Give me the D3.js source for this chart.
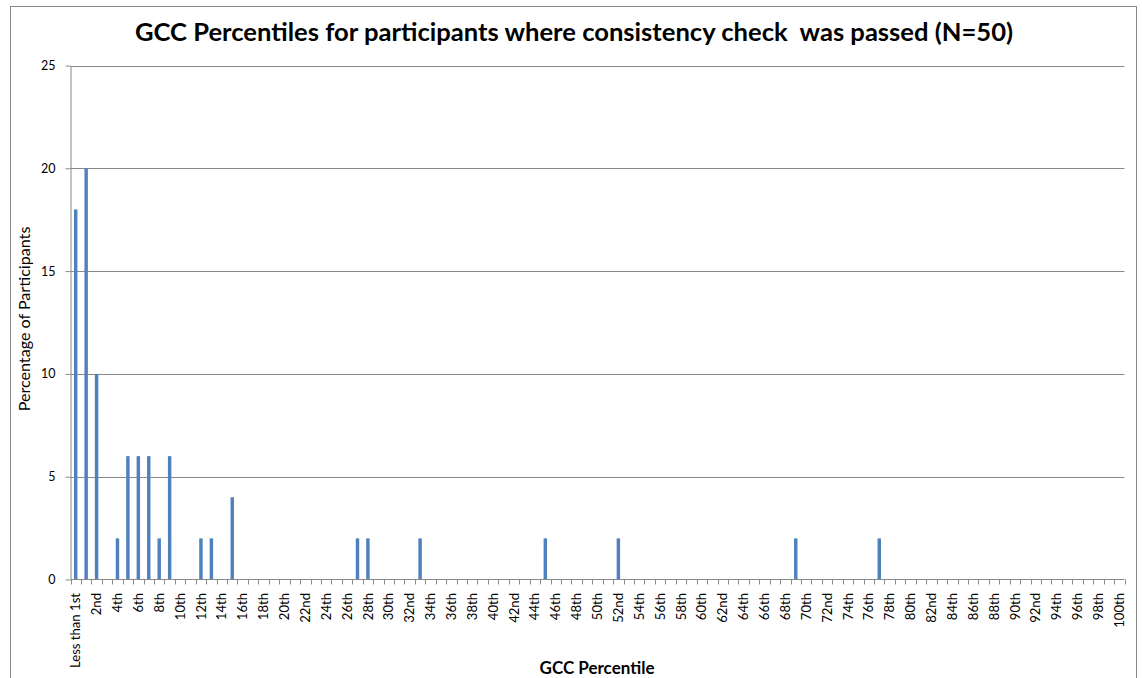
<!DOCTYPE html>
<html>
<head>
<meta charset="utf-8">
<script src="https://cdn.jsdelivr.net/npm/d3@7"></script>
<style>
  html, body { margin: 0; padding: 0; background: #fff; }
  svg { display: block; font-family: Lato, "Open Sans", "Liberation Sans", sans-serif; }
</style>
</head>
<body>
<svg id="chart" width="1142" height="678"></svg>
<script>
// ---- chart data ----
const chartTitle = "GCC Percentiles for participants where consistency check  was passed (N=50)";
const xTitle = "GCC Percentile";
const yTitle = "Percentage of Participants";

// percentile categories: "Less than 1st", then 1st ... 100th
function ordinal(n) {
  const s = ["th", "st", "nd", "rd"], v = n % 100;
  return n + (s[(v - 20) % 10] || s[v] || s[0]);
}
const categories = ["Less than 1st"].concat(d3.range(1, 101).map(ordinal));

// categories with participants (all other categories are 0)
const barCategories = ["Less than 1st", "1st", "2nd", "4th", "5th", "6th", "7th", "8th", "9th",
  "12th", "13th", "15th", "27th", "28th", "33rd", "45th", "52nd", "69th", "77th"];
const barValues = [18, 20, 10, 2, 6, 6, 6, 2, 6, 2, 2, 4, 2, 2, 2, 2, 2, 2, 2];

const yTicks = [0, 5, 10, 15, 20, 25];

// ---- layout ----
const svg = d3.select("#chart");
const plot = { left: 70.5, right: 1124.5, top: 65.5, bottom: 579.5 };
const gridColor = "#8a8a8a";
const barColor = "#4f81bd";

const valueByCategory = new Map(barCategories.map((c, i) => [c, barValues[i]]));
const series = categories.map(c => ({ category: c, value: valueByCategory.get(c) || 0 }));

const x = d3.scaleBand().domain(categories).range([plot.left, plot.right]).paddingInner(0).paddingOuter(0);
const y = d3.scaleLinear().domain([0, 25]).range([plot.bottom, plot.top]);

// shrink a text element's font so it spans a given width
function fitWidth(sel, target) {
  const len = sel.node().getComputedTextLength();
  const fs = parseFloat(sel.attr("font-size"));
  sel.attr("font-size", (fs * target / len).toFixed(2));
}

// outer chart frame
svg.append("rect")
  .attr("x", 10.5).attr("y", 6.5)
  .attr("width", 1126).attr("height", 700)
  .attr("fill", "#fff").attr("stroke", gridColor).attr("stroke-width", 1);

// horizontal gridlines
svg.append("g").selectAll("line")
  .data(yTicks.filter(t => t > 0))
  .join("line")
  .attr("x1", plot.left).attr("x2", plot.right)
  .attr("y1", d => Math.round(y(d)) + 0.5).attr("y2", d => Math.round(y(d)) + 0.5)
  .attr("stroke", gridColor).attr("stroke-width", 1);

// bars
const bw = x.bandwidth() * 0.33;
svg.append("g").selectAll("rect")
  .data(series.filter(d => d.value > 0))
  .join("rect")
  .attr("x", d => x(d.category) + x.bandwidth() / 2 - bw / 2)
  .attr("width", bw)
  .attr("y", d => y(d.value))
  .attr("height", d => y(0) - y(d.value))
  .attr("fill", barColor);

// y axis
const yAxis = svg.append("g")
  .attr("transform", `translate(${plot.left},0)`)
  .call(d3.axisLeft(y).tickValues(yTicks).tickSize(5).tickPadding(10).tickSizeOuter(0));
yAxis.select(".domain").attr("stroke", gridColor);
yAxis.selectAll(".tick line").attr("stroke", gridColor);
yAxis.selectAll(".tick text")
  .attr("font-size", 12.5).attr("fill", "#000")
  .style("font-family", "Lato, 'Open Sans', sans-serif");

// x axis line and boundary ticks
const xg = svg.append("g");
xg.append("line")
  .attr("x1", plot.left).attr("x2", plot.right)
  .attr("y1", plot.bottom).attr("y2", plot.bottom)
  .attr("stroke", gridColor);
const boundaries = categories.map(c => x(c)).concat([plot.right]);
xg.selectAll("line.tick")
  .data(boundaries)
  .join("line")
  .attr("class", "tick")
  .attr("x1", d => Math.round(d) + 0.5).attr("x2", d => Math.round(d) + 0.5)
  .attr("y1", plot.bottom).attr("y2", plot.bottom + 5)
  .attr("stroke", gridColor);

// rotated category labels, every other category
const labelY = 593;
const labelData = categories.filter((c, i) => i % 2 === 0);
const labels = xg.selectAll("text")
  .data(labelData)
  .join("text")
  .attr("transform", d => `translate(${x(d) + x.bandwidth() / 2},${labelY}) rotate(-90)`)
  .attr("text-anchor", "end")
  .attr("dy", "0.35em")
  .attr("font-size", 12)
  .attr("fill", "#000")
  .text(d => d);
// size labels so the longest one spans its measured length
{
  const first = labels.filter(d => d === "Less than 1st");
  fitWidth(first, 75);
  labels.attr("font-size", first.attr("font-size"));
}

// chart title
const title = svg.append("text")
  .attr("x", 574).attr("y", 41)
  .attr("text-anchor", "middle")
  .attr("font-weight", "bold")
  .attr("font-size", 22)
  .attr("fill", "#000")
  .style("white-space", "pre")
  .text(chartTitle);
fitWidth(title, 878);

// axis titles
const xt = svg.append("text")
  .attr("x", 597).attr("y", 674)
  .attr("text-anchor", "middle")
  .attr("font-weight", "bold")
  .attr("font-size", 16)
  .attr("fill", "#000")
  .text(xTitle);
fitWidth(xt, 115);

const yt = svg.append("text")
  .attr("transform", "translate(30,319) rotate(-90)")
  .attr("text-anchor", "middle")
  .attr("font-size", 15)
  .attr("fill", "#000")
  .text(yTitle);
fitWidth(yt, 185);
</script>
</body>
</html>
